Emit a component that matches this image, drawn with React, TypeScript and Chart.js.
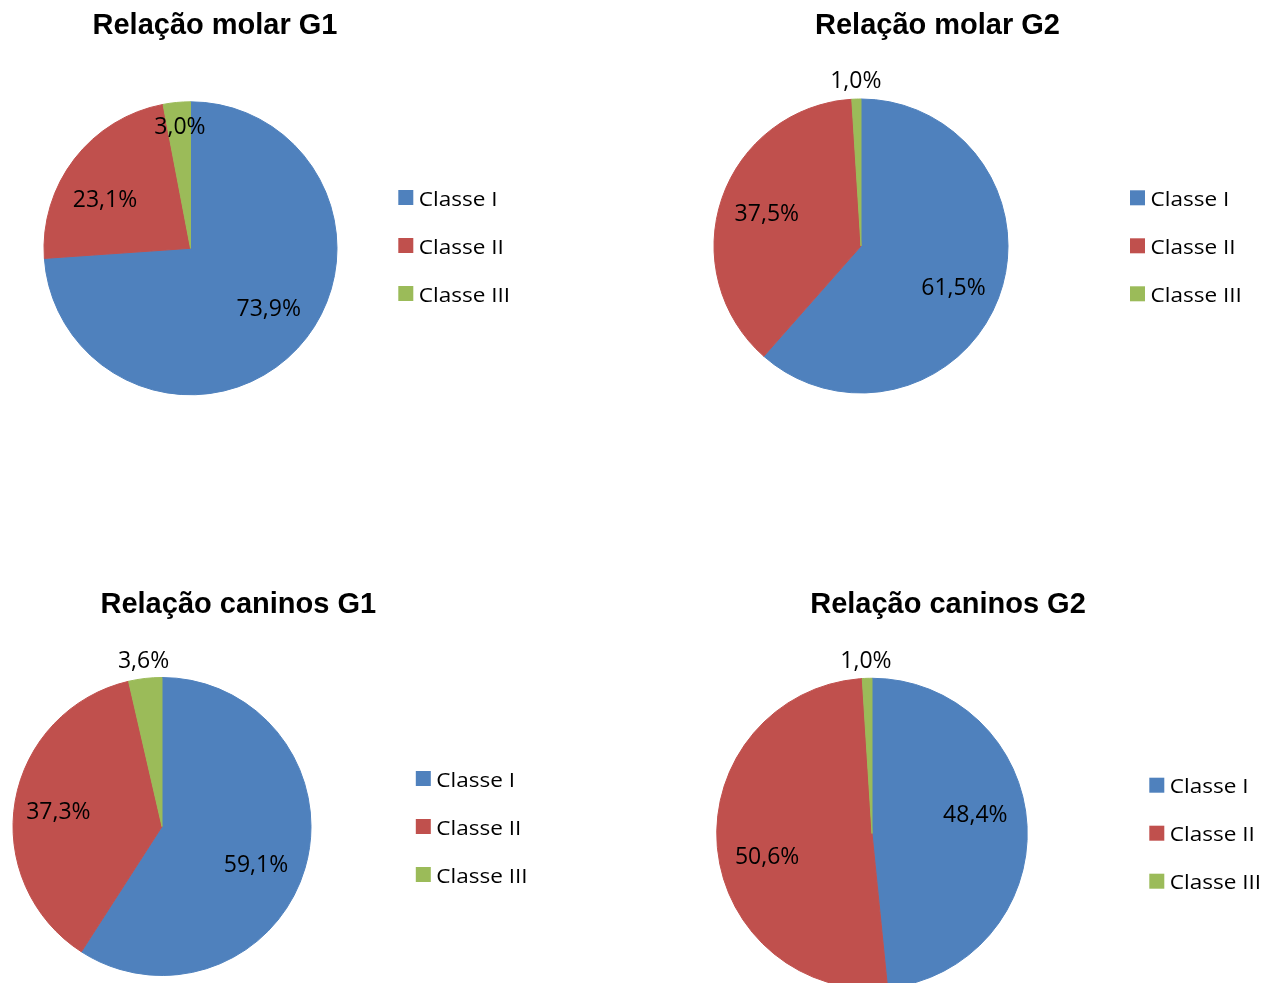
import React, { useEffect, useRef } from "react";
import { Chart, registerables } from "chart.js";

Chart.register(...registerables);

// Categories and colours shared by every pie
const classLabels = ["Classe I", "Classe II", "Classe III"];
const classColors = ["#4F81BD", "#C0504D", "#9BBB59"];

// Percentages per group
const molarG1 = [73.9, 23.1, 3.0];
const molarG2 = [61.5, 37.5, 1.0];
const caninosG1 = [59.1, 37.3, 3.6];
const caninosG2 = [48.4, 50.6, 1.0];

const chartTitles = [
  "Relação molar G1",
  "Relação molar G2",
  "Relação caninos G1",
  "Relação caninos G2",
];

const PAGE_W = 1276;
const PAGE_H = 983;
const CANVAS_H = 1000;

type LabelSpot = { shift: number; inside?: number; outside?: number };

type Panel = {
  title: string;
  values: number[];
  cx: number;
  cy: number;
  r: number;
  titleX: number;
  titleY: number;
  legendX: number;
  legendY: number;
  spots: LabelSpot[];
};

const panels: Panel[] = [
  {
    title: chartTitles[0],
    values: molarG1,
    cx: 190.5,
    cy: 248.3,
    r: 147,
    titleX: 215,
    titleY: 33.5,
    legendX: 398.3,
    legendY: 197.5,
    spots: [
      { shift: -6.1, inside: 0.668 },
      { shift: -7.2, inside: 0.677 },
      { shift: 0.5, inside: 0.844 },
    ],
  },
  {
    title: chartTitles[1],
    values: molarG2,
    cx: 861,
    cy: 246,
    r: 147.5,
    titleX: 937.5,
    titleY: 33.5,
    legendX: 1130,
    legendY: 197.8,
    spots: [
      { shift: 3.0, inside: 0.687 },
      { shift: 0.7, inside: 0.68 },
      { shift: 0, outside: 19.8 },
    ],
  },
  {
    title: chartTitles[2],
    values: caninosG1,
    cx: 162,
    cy: 826.5,
    r: 149.5,
    titleX: 238.3,
    titleY: 613,
    legendX: 415.8,
    legendY: 778.5,
    spots: [
      { shift: 5.2, inside: 0.678 },
      { shift: -1.0, inside: 0.704 },
      { shift: 0.2, outside: 19.2 },
    ],
  },
  {
    title: chartTitles[3],
    values: caninosG2,
    cx: 872,
    cy: 833.5,
    r: 155.75,
    titleX: 948,
    titleY: 613,
    legendX: 1149.3,
    legendY: 785.2,
    spots: [
      { shift: -8.1, inside: 0.678 },
      { shift: -7.0, inside: 0.69 },
      { shift: -0.2, outside: 19 },
    ],
  },
];

const formatPct = (v: number) => v.toFixed(1).replace(".", ",") + "%";

function PiePanel({ panel }: { panel: Panel }) {
  const ref = useRef<HTMLCanvasElement>(null);

  useEffect(() => {
    const canvas = ref.current;
    if (!canvas) return;
    const { cx, cy, r } = panel;

    const decor = {
      id: "panelDecor",
      afterDraw(chart: any) {
        const ctx: CanvasRenderingContext2D = chart.ctx;
        ctx.save();

        // Title
        ctx.fillStyle = "#000";
        ctx.font = 'bold 29px "Liberation Sans", Arial, sans-serif';
        ctx.textAlign = "center";
        ctx.textBaseline = "alphabetic";
        ctx.fillText(panel.title, panel.titleX, panel.titleY);

        // Percentage labels on each slice
        ctx.font = '23px "Open Sans", sans-serif';
        const rise = ctx.measureText("0").actualBoundingBoxAscent / 2;
        const meta = chart.getDatasetMeta(0);
        meta.data.forEach((arc: any, i: number) => {
          const p = arc.getProps(["x", "y", "startAngle", "endAngle", "outerRadius"], true);
          const spot = panel.spots[i];
          const a = (p.startAngle + p.endAngle) / 2 + (spot.shift * Math.PI) / 180;
          const d =
            spot.outside !== undefined ? p.outerRadius + spot.outside : p.outerRadius * (spot.inside ?? 0.68);
          const lx = p.x + Math.cos(a) * d;
          const ly = p.y + Math.sin(a) * d;
          ctx.fillStyle = "#000";
          ctx.fillText(formatPct(panel.values[i]), lx, ly + rise);
        });

        // Legend
        ctx.font = '20.5px "Open Sans", sans-serif';
        ctx.textAlign = "left";
        classLabels.forEach((label, i) => {
          const ty = panel.legendY + i * 48;
          ctx.fillStyle = classColors[i];
          ctx.fillRect(panel.legendX, ty - 7.5, 15, 15);
          ctx.fillStyle = "#000";
          ctx.save();
          ctx.translate(panel.legendX + 20.5, ty + 8);
          ctx.scale(1.1, 1);
          ctx.fillText(label, 0, 0);
          ctx.restore();
        });

        ctx.restore();
      },
    };

    const chart = new Chart(canvas, {
      type: "pie",
      data: {
        labels: classLabels,
        datasets: [
          {
            data: panel.values,
            backgroundColor: classColors,
            borderColor: classColors,
            borderWidth: 1,
          },
        ],
      },
      options: {
        responsive: false,
        maintainAspectRatio: false,
        animation: false,
        events: [],
        layout: {
          padding: {
            left: cx - r,
            top: cy - r,
            right: PAGE_W - cx - r,
            bottom: CANVAS_H - cy - r,
          },
        },
        plugins: {
          legend: { display: false },
          title: { display: false },
          tooltip: { enabled: false },
        },
      },
      plugins: [decor],
    });

    return () => chart.destroy();
  }, [panel]);

  return (
    <canvas
      ref={ref}
      width={PAGE_W}
      height={CANVAS_H}
      style={{ position: "absolute", left: 0, top: 0, width: PAGE_W, height: CANVAS_H }}
    />
  );
}

export default function App() {
  return (
    <div
      style={{
        position: "absolute",
        left: 0,
        top: 0,
        width: PAGE_W,
        height: PAGE_H,
        overflow: "hidden",
        background: "#fff",
      }}
    >
      {panels.map((p) => (
        <PiePanel key={p.title} panel={p} />
      ))}
    </div>
  );
}
